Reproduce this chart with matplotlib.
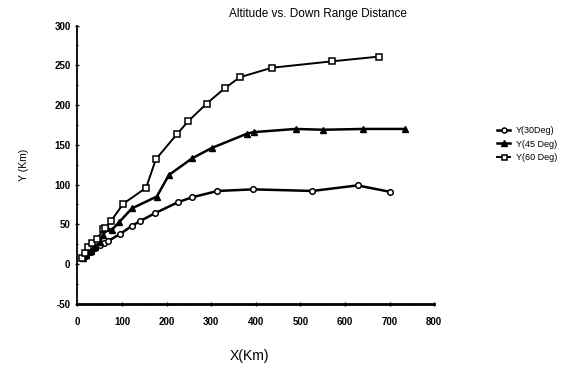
import matplotlib
matplotlib.use("Agg")
import matplotlib.pyplot as plt
from matplotlib.ticker import MultipleLocator

x30 = [10, 20, 30, 39, 50, 60, 69, 96, 122, 140, 174, 226, 257, 314, 394, 527, 628, 700]
y30 = [8, 10, 15, 20, 24, 27, 29, 38, 48, 54, 64, 78, 84, 92, 94, 92, 99, 91]

x45 = [12, 20, 30, 40, 50, 58, 66, 77, 94, 122, 178, 205, 257, 301, 380, 395, 489, 551, 641, 734]
y45 = [8, 12, 17, 22, 28, 36, 45, 43, 53, 70, 85, 112, 133, 146, 164, 166, 170, 169, 170, 170]

x60 = [10, 17, 24, 32, 45, 58, 62, 75, 103, 154, 176, 224, 249, 290, 330, 364, 436, 570, 676]
y60 = [8, 14, 22, 27, 32, 44, 45, 54, 76, 96, 132, 164, 180, 202, 221, 235, 247, 255, 261]

labels = ["Y(30Deg)", "Y(45 Deg)", "Y(60 Deg)"]
xticks = [0, 100, 200, 300, 400, 500, 600, 700, 800]
yticks = [-50, 0, 50, 100, 150, 200, 250, 300]

plt.rcParams['font.family'] = ['Liberation Sans', 'DejaVu Sans']
plt.rcParams['axes.unicode_minus'] = False
fig = plt.figure(figsize=(5.61, 3.71), dpi=100)
ax = fig.add_axes([0.138, 0.181, 0.636, 0.750])

ax.plot(x30, y30, color='black', lw=1.8, marker='o', ms=4, mfc='white', mec='black', mew=1.1, label=labels[0])
ax.plot(x45, y45, color='black', lw=1.8, marker='^', ms=4.5, mfc='black', mec='black', label=labels[1])
ax.plot(x60, y60, color='black', lw=1.4, marker='s', ms=4, mfc='white', mec='black', mew=1.1, label=labels[2])

ax.set_xlim(0, 800)
ax.set_ylim(-50, 300)
ax.set_xticks(xticks)
ax.set_yticks(yticks)
ax.xaxis.set_minor_locator(MultipleLocator(50))
ax.yaxis.set_minor_locator(MultipleLocator(25))
ax.tick_params(axis='both', which='major', labelsize=7, length=3, width=1, direction='inout')
ax.tick_params(axis='x', which='major', pad=8)
ax.tick_params(axis='both', which='minor', length=2, width=0.8, direction='inout')
for lab in ax.get_xticklabels() + ax.get_yticklabels():
    lab.set_fontweight('bold')
for s in ['top', 'right']:
    ax.spines[s].set_visible(False)
ax.spines['left'].set_linewidth(1.3)
ax.spines['bottom'].set_linewidth(2.0)

fig.text(0.567, 0.962, "Altitude vs. Down Range Distance", ha='center', va='center', fontsize=8.5)
fig.text(0.042, 0.555, "Y (Km)", rotation=90, ha='center', va='center', fontsize=7.5)
fig.text(0.445, 0.04, "X(Km)", ha='center', va='center', fontsize=10)

fig.legend(loc='upper left', bbox_to_anchor=(0.88, 0.67), frameon=False, fontsize=6.5,
           handlelength=1.4, handletextpad=0.7, labelspacing=0.5, borderaxespad=0, markerscale=0.9)

fig.savefig("out.png", dpi=100)
